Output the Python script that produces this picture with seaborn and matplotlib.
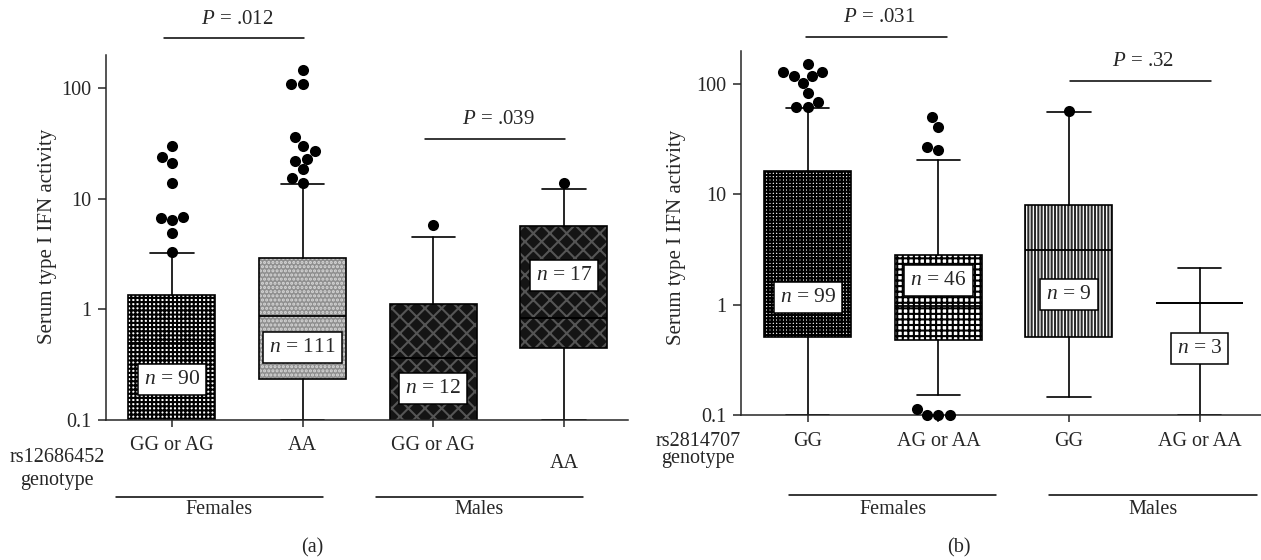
import matplotlib
matplotlib.use("Agg")
import matplotlib.pyplot as plt
import matplotlib.transforms as mtransforms
from matplotlib.patches import PathPatch
import pandas as pd
import seaborn as sns

# ---- panel (a): rs12686452 ----
a_genotypes = ["GG or AG", "AA", "GG or AG", "AA"]
a_n = [90, 111, 12, 17]
a_q1 = [0.05, 0.237, 0.05, 0.45]
a_median = [0.50, 0.88, 0.36, 0.84]
a_q3 = [1.36, 2.92, 1.11, 5.63]
a_whislo = [0.05, 0.1, 0.05, 0.1]
a_whishi = [3.26, 13.7, 4.48, 12.2]
a_outliers = [[30, 24, 21, 14, 6.4, 6.8, 6.7, 4.9, 3.3],
              [146, 110, 110, 36, 30, 27, 23, 22, 18.5, 15.4, 14],
              [5.8],
              [14]]
a_pvalues = [".012", ".039"]

# ---- panel (b): rs2814707 ----
b_genotypes = ["GG", "AG or AA", "GG", "AG or AA"]
b_n = [99, 46, 9, 3]
b_q1 = [0.507, 0.483, 0.51, 1.04]
b_median = [2.67, 0.98, 3.14, 1.04]
b_q3 = [16.2, 2.81, 7.95, 1.04]
b_whislo = [0.1, 0.152, 0.145, 0.1]
b_whishi = [60.5, 20.4, 56, 2.14]
b_outliers = [[151, 128, 128, 117, 117, 101, 82, 69, 61.5, 61.5],
              [50, 41, 27, 25, 0.114, 0.1, 0.1, 0.1],
              [57],
              []]
b_pvalues = [".031", ".32"]

W, H = 1261, 560


def fy(p):
    # pixel row (from top) -> figure fraction
    return 1 - p / H


sns.set_style("ticks")
plt.rcParams["font.family"] = ["Liberation Serif", "DejaVu Serif"]
plt.rcParams["mathtext.fontset"] = "custom"
plt.rcParams["mathtext.rm"] = "Liberation Serif"
plt.rcParams["mathtext.it"] = "Liberation Serif:italic"
plt.rcParams["hatch.linewidth"] = 1.5
plt.rcParams["axes.linewidth"] = 1.1

fig = plt.figure(figsize=(W / 100, H / 100), dpi=100)


def draw_panel(ax, genotypes, n, q1, med, q3, lo, hi, outliers, pvalues, styles, lay):
    ax.set_yscale("log")
    stats = [dict(q1=a, med=m, q3=b, whislo=l, whishi=h, fliers=[])
             for a, m, b, l, h in zip(q1, med, q3, lo, hi)]
    pos = list(range(len(stats)))
    art = ax.bxp(stats, positions=pos, widths=0.666, capwidths=0.33,
                 patch_artist=True, showfliers=False,
                 boxprops=dict(linewidth=0),
                 medianprops=dict(color="black", linewidth=1.3),
                 whiskerprops=dict(color="black", linewidth=1.2),
                 capprops=dict(color="black", linewidth=1.2))
    for box, st in zip(art["boxes"], styles):
        box.set_facecolor(st["fc"])
        box.set_edgecolor(st["hc"])
        box.set_hatch(st["hatch"])
        ax.add_patch(PathPatch(box.get_path(), fill=False, edgecolor="black",
                               linewidth=1.2, zorder=2.05))

    # outlying points
    df = pd.DataFrame({"pos": [i for i, o in enumerate(outliers) for _ in o],
                       "val": [v for o in outliers for v in o]})
    sns.swarmplot(data=df, x="pos", y="val", native_scale=True, orient="x",
                  color="black", size=8, ax=ax, zorder=4, clip_on=False)

    # n labels
    for i, (k, yv) in enumerate(zip(n, lay["nlab_y"])):
        ax.text(i, yv, f"$n$ = {k}", ha="center", va="center", fontsize=15.5, zorder=5,
                bbox=dict(boxstyle="square,pad=0.28", fc="white", ec="black", lw=1.1))

    ax.set_xlim(lay["xlim"])
    ax.set_ylim(0.1, 200)
    ax.set_yticks([0.1, 1, 10, 100], ["0.1", "1", "10", "100"])
    ax.yaxis.set_minor_locator(matplotlib.ticker.NullLocator())
    ax.set_xticks(pos, [""] * len(pos))
    ax.tick_params(axis="y", length=6, width=1.1, pad=4.5, labelsize=14.5, direction="out")
    ax.tick_params(axis="x", length=5, width=1.1, direction="out")
    ax.set_xlabel("")
    ax.set_ylabel("")
    sns.despine(ax=ax)

    tr = mtransforms.blended_transform_factory(ax.transData, fig.transFigure)
    for i, (g, yp) in enumerate(zip(genotypes, lay["cat_y"])):
        ax.text(i, fy(yp), g, transform=tr, ha="center", va="center", fontsize=14.5)

    for (name, x0, x1) in lay["groups"]:
        ax.plot([x0, x1], [fy(lay["group_line"])] * 2, transform=tr, color="black",
                lw=1.1, clip_on=False)
        ax.text((x0 + x1) / 2, fy(lay["group_text"]), name, transform=tr,
                ha="center", va="center", fontsize=14.5)

    for p, (x0, x1, yl, yt) in zip(pvalues, lay["pbars"]):
        ax.plot([x0, x1], [fy(yl)] * 2, transform=tr, color="black", lw=1.1, clip_on=False)
        ax.text((x0 + x1) / 2 + 0.02, fy(yt), f"$P$ = {p}", transform=tr,
                ha="center", va="center", fontsize=15)

    for txt, xp, yp in lay["rs"]:
        fig.text(xp / W, fy(yp), txt, ha="center", va="center", fontsize=14.5)
    fig.text(lay["ylab"][0] / W, fy(lay["ylab"][1]), "Serum type I IFN activity",
             rotation=90, ha="center", va="center", fontsize=15)
    fig.text(lay["tag"][1] / W, fy(lay["tag"][2]), lay["tag"][0],
             ha="center", va="center", fontsize=14.5)


a_styles = [dict(fc="white", hatch="++++", hc="black"),
            dict(fc="#8f8f8f", hatch="....", hc="#d8d8d8"),
            dict(fc="#141414", hatch="xx", hc="#555555"),
            dict(fc="#141414", hatch="xx", hc="#555555")]
b_styles = [dict(fc="white", hatch="+++++", hc="black"),
            dict(fc="white", hatch="+++", hc="black"),
            dict(fc="white", hatch="|||||", hc="#2a2a2a"),
            dict(fc="white", hatch="", hc="black")]

a_layout = dict(xlim=(-0.505, 3.49), nlab_y=[0.234, 0.455, 0.194, 2.02],
                cat_y=[446, 446, 446, 463],
                groups=[("Females", -0.432, 1.159), ("Males", 1.558, 3.145)],
                group_line=497, group_text=509,
                pbars=[(-0.061, 1.014, 38, 19), (1.94, 3.01, 139, 120)],
                rs=[("rs12686452", 57, 458), ("genotype", 57, 480)],
                ylab=(47.5, 236), tag=("(a)", 312, 548))
b_layout = dict(xlim=(-0.508, 3.47), nlab_y=[1.16, 1.65, 1.23, 0.40],
                cat_y=[442, 442, 442, 442],
                groups=[("Females", -0.145, 1.443), ("Males", 1.849, 3.44)],
                group_line=495, group_text=509,
                pbars=[(-0.013, 1.067, 37, 17), (2.01, 3.09, 81, 61)],
                rs=[("rs2814707", 698, 442), ("genotype", 698, 459)],
                ylab=(677, 237), tag=("(b)", 959, 548))

ax_a = fig.add_axes([106 / W, (H - 420) / H, (628 - 106) / W, (420 - 55) / H])
ax_b = fig.add_axes([741.4 / W, (H - 415) / H, (1261 - 741.4) / W, (415 - 50.7) / H])

draw_panel(ax_a, a_genotypes, a_n, a_q1, a_median, a_q3, a_whislo, a_whishi,
           a_outliers, a_pvalues, a_styles, a_layout)
draw_panel(ax_b, b_genotypes, b_n, b_q1, b_median, b_q3, b_whislo, b_whishi,
           b_outliers, b_pvalues, b_styles, b_layout)

fig.savefig("out.png", dpi=100)
